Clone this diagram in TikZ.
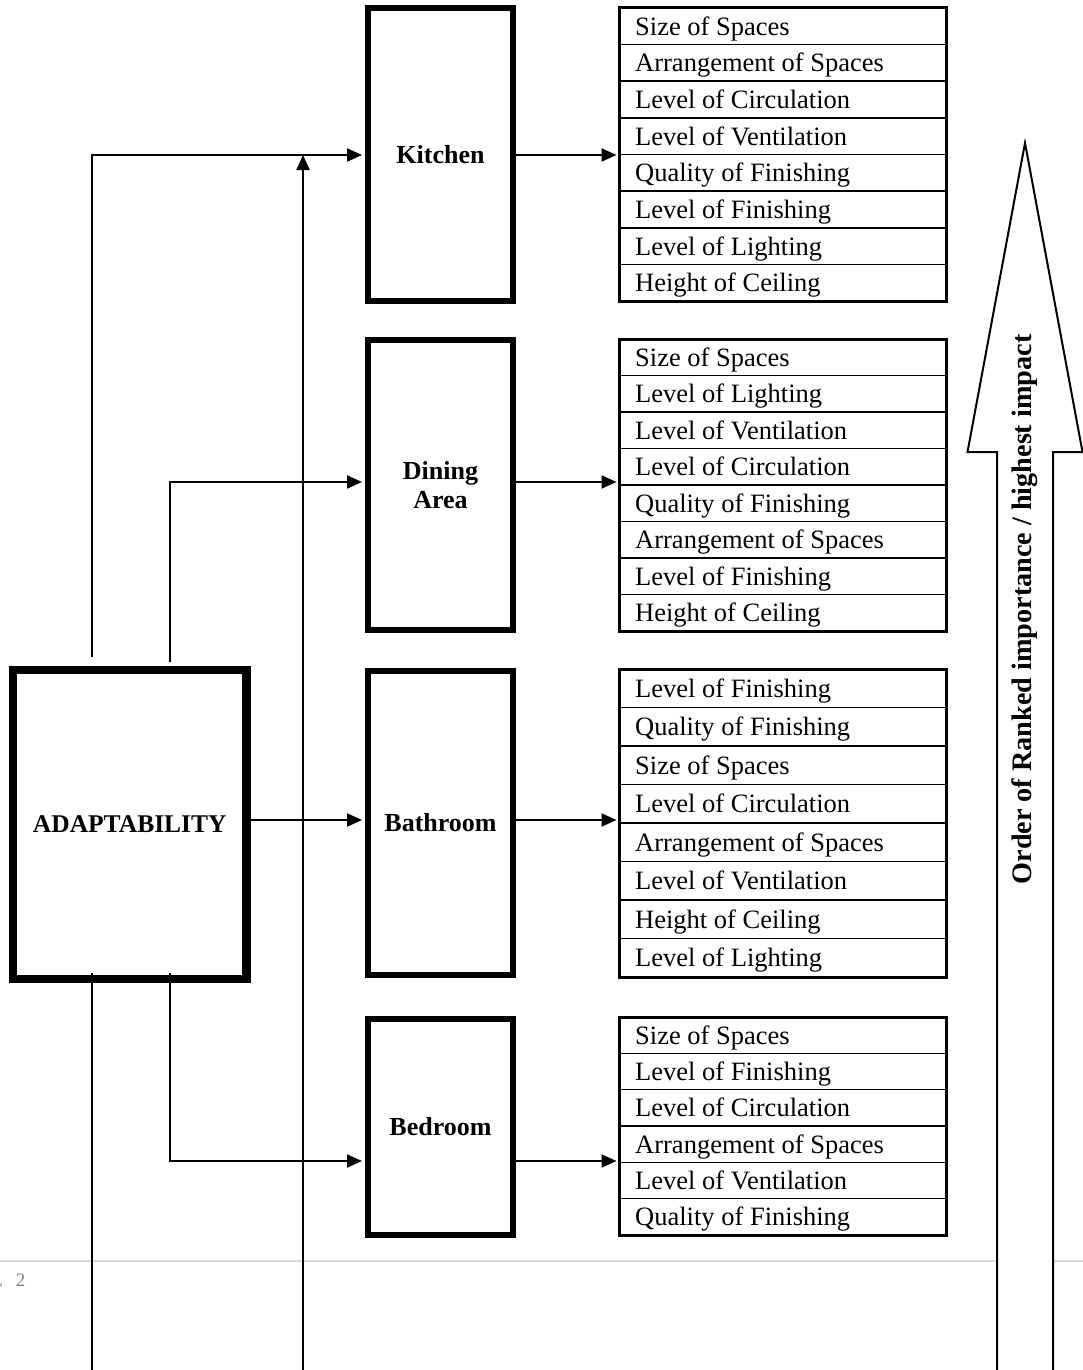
\documentclass[tikz,border=0pt]{standalone}
\usepackage{fontspec}
\setmainfont{Liberation Serif}
\usetikzlibrary{arrows.meta}
\begin{document}
\begin{tikzpicture}[x=1pt,y=-1pt,
  room/.style={draw, line width=6pt, minimum width=145pt, inner sep=0pt, align=center,
    font=\fontsize{26}{29}\selectfont\bfseries},
  lst/.style={draw, line width=3pt, minimum width=327pt, inner sep=0pt},
  item/.style={anchor=base west, inner sep=0pt, font=\fontsize{26.5}{30}\selectfont},
  sep/.style={line width=1.5pt},
  conn/.style={line width=2pt},
  arr/.style={conn, -{Triangle[length=15pt,width=13pt]}},
]
\useasboundingbox (0,0) rectangle (1083,1370);
% faint page rule and page label
\draw[gray!30, line width=2pt] (0,1261) -- (1083,1261);
\node[anchor=base east, inner sep=0pt, text=gray, font=\fontsize{19}{22}\selectfont] (pg) at (25.5,1286) {L\hspace{8pt} 2};

% main box
\node[draw, line width=8.5pt, minimum width=233.5pt, minimum height=309pt, inner sep=0pt,
  font=\fontsize{25.5}{30}\selectfont\bfseries] (adapt) at (129.75,824.5) {ADAPTABILITY};

% room boxes
\node[room, minimum height=293pt] (kitchen) at (440.5,154.5) {Kitchen};
\node[room, minimum height=290pt] (dining) at (440.5,485) {Dining\\Area};
\node[room, minimum height=304pt] (bath) at (440.5,823) {Bathroom};
\node[room, minimum height=216pt] (bed) at (440.5,1127) {Bedroom};

% list boxes
\node[lst, minimum height=293pt] (klist) at (783,154.5) {};
\node[lst, minimum height=292pt] (dlist) at (783,485) {};
\node[lst, minimum height=308pt] (blist) at (783,823) {};
\node[lst, minimum height=218pt] (rlist) at (783,1126) {};

% kitchen items
\foreach \t [count=\i] in {Size of Spaces, Arrangement of Spaces, Level of Circulation,
  Level of Ventilation, Quality of Finishing, Level of Finishing, Level of Lighting, Height of Ceiling}
  \node[item] (k\i) at (635,{8+(\i-0.5)*36.625+9}) {\t};
\foreach \i in {1,...,7} \draw[sep] (619.5,{8+\i*36.625}) -- (946.5,{8+\i*36.625});

% dining items
\foreach \t [count=\i] in {Size of Spaces, Level of Lighting, Level of Ventilation,
  Level of Circulation, Quality of Finishing, Arrangement of Spaces, Level of Finishing, Height of Ceiling}
  \node[item] (d\i) at (635,{339+(\i-0.5)*36.5+9}) {\t};
\foreach \i in {1,...,7} \draw[sep] (619.5,{339+\i*36.5}) -- (946.5,{339+\i*36.5});

% bathroom items
\foreach \t [count=\i] in {Level of Finishing, Quality of Finishing, Size of Spaces,
  Level of Circulation, Arrangement of Spaces, Level of Ventilation, Height of Ceiling, Level of Lighting}
  \node[item] (b\i) at (635,{669+(\i-0.5)*38.5+9}) {\t};
\foreach \i in {1,...,7} \draw[sep] (619.5,{669+\i*38.5}) -- (946.5,{669+\i*38.5});

% bedroom items
\foreach \t [count=\i] in {Size of Spaces, Level of Finishing, Level of Circulation,
  Arrangement of Spaces, Level of Ventilation, Quality of Finishing}
  \node[item] (r\i) at (635,{1017+(\i-0.5)*36.333+9}) {\t};
\foreach \i in {1,...,5} \draw[sep] (619.5,{1017+\i*36.333}) -- (946.5,{1017+\i*36.333});

% connector anchor points
\coordinate (a1) at (92,657);
\coordinate (a2) at (170,662);
\coordinate (a3) at (92,973);
\coordinate (a4) at (170,973);
\coordinate (a5) at (92,1372);
\coordinate (v0) at (303,1372);
\coordinate (v1) at (303,155);
\coordinate (yk) at (0,155);
\coordinate (yd) at (0,482);
\coordinate (yb) at (0,820);
\coordinate (yr) at (0,1161);

% connectors from ADAPTABILITY
\draw[arr, shorten >=3pt] (a1) |- (kitchen.west |- yk);
\draw[arr, shorten >=3pt] (a2) |- (dining.west |- yd);
\draw[arr, shorten >=3pt] (adapt.east |- yb) -- (bath.west |- yb);
\draw[arr, shorten >=3pt] (a4) |- (bed.west |- yr);
\draw[conn] (a3) -- (a5);
\draw[arr] (v0) -- (v1);

% room -> list
\draw[arr, shorten >=1.5pt] (kitchen.east |- yk) -- (klist.west |- yk);
\draw[arr, shorten >=1.5pt] (dining.east |- yd) -- (dlist.west |- yd);
\draw[arr, shorten >=1.5pt] (bath.east |- yb) -- (blist.west |- yb);
\draw[arr, shorten >=1.5pt] (bed.east |- yr) -- (rlist.west |- yr);

% ranking arrow
\draw[line width=2pt, fill=white, line join=miter]
  (997,1375) -- (997,452) -- (967.5,452) -- (1025,143) -- (1082.5,452) -- (1053,452) -- (1053,1375);
\node[rotate=90, inner sep=0pt, font=\fontsize{28.2}{30}\selectfont\bfseries] (rank) at (1025,609.5)
  {Order of Ranked importance / highest impact};
\end{tikzpicture}
\end{document}
